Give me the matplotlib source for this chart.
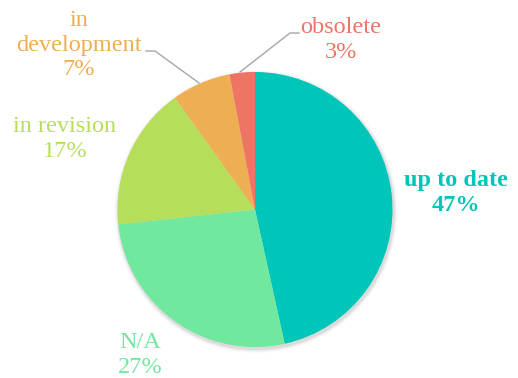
"""Document status breakdown as a pie chart with coloured callout labels."""
import matplotlib.pyplot as plt
from matplotlib.patches import Circle

W, H = 518, 378

labels = ["up to date", "N/A", "in revision", "in development", "obsolete"]
values = [47, 27, 17, 7, 3]
colors = ["#00C6B9", "#70E89E", "#B6DE5B", "#EEAF52", "#EE7463"]

# label anchor points in pixel units (origin top-left)
label_xy = {
    "up to date": (456, 193),
    "N/A": (140, 355),
    "in revision": (65, 139),
    "in development": (79, 45),
    "obsolete": (341, 40),
}

plt.rcParams["font.family"] = ["Liberation Serif", "DejaVu Serif"]

fig = plt.figure(figsize=(W / 100, H / 100), dpi=100)
ax = fig.add_axes([0, 0, 1, 1])


def py(y):
    return H - y


cx, cy, r = 255, py(209.5), 137.5

# soft drop shadow behind the pie
for i, a in enumerate([0.05, 0.04, 0.03, 0.02]):
    ax.add_patch(Circle((cx + 1, cy - 2), r + 1 + i, color="black",
                        alpha=a, lw=0, zorder=0))

ax.pie(values, colors=colors, startangle=90, counterclock=False,
       center=(cx, cy), radius=r, frame=True,
       wedgeprops=dict(linewidth=0, zorder=1))
ax.set_xlim(0, W)
ax.set_ylim(0, H)
ax.set_aspect("equal")
ax.axis("off")

total = sum(values)
for lab, val, col in zip(labels, values, colors):
    x, y = label_xy[lab]
    name = lab.replace("in development", "in\ndevelopment")
    txt = f"{name}\n{round(100 * val / total)}%"
    ax.text(x, py(y), txt, color=col, fontsize=17.5, ha="center", va="center",
            linespacing=1.2,
            fontweight="bold" if lab == "up to date" else "normal")

# leader lines for the two small slices
ax.plot([146, 155, 199], [py(51), py(51), py(83)], color="#A6A6A6", lw=1)
ax.plot([299, 290, 240], [py(33), py(33), py(72)], color="#A6A6A6", lw=1)

fig.savefig("out.png", dpi=100)
